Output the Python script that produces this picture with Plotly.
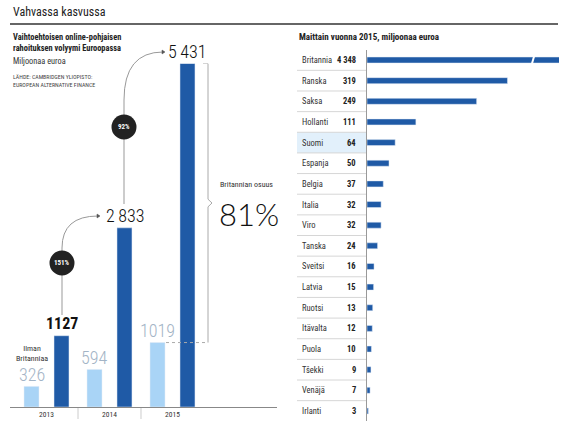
import plotly.graph_objects as go

W, H = 570, 428

# ---------------- data ----------------
years = [2013, 2014, 2015]
without_uk = [326, 594, 1019]
total = [1127, 2833, 5431]
growth = ["151%", "92%"]
uk_share = "81%"

countries = ["Britannia", "Ranska", "Saksa", "Hollanti", "Suomi", "Espanja", "Belgia",
             "Italia", "Viro", "Tanska", "Sveitsi", "Latvia", "Ruotsi", "Itävalta",
             "Puola", "Tšekki", "Venäjä", "Irlanti"]
values_2015 = [4348, 319, 249, 111, 64, 50, 37, 32, 32, 24, 16, 15, 13, 12, 10, 9, 7, 3]
value_labels = ["4 348", "319", "249", "111", "64", "50", "37", "32", "32", "24", "16",
                "15", "13", "12", "10", "9", "7", "3"]
highlight = "Suomi"

# ---------------- styling ----------------
DARK = "#1f5aa6"
LIGHT = "#a9d4f6"
NARROW = "Noto Sans Condensed, Liberation Sans Narrow, Roboto Condensed, Lato"
THIN = "Roboto Condensed, Liberation Sans Narrow, Lato"
LIGHTF = "Lato Light, Noto Sans Light, Lato"
TXT = "#222222"


def px(x):
    return x / W


def py(y):
    return 1 - y / H


def fmt_big(v):
    return f"{v:,}".replace(",", "\u2009") if v >= 2000 else str(v)


fig = go.Figure()

# left chart bars
fig.add_trace(go.Bar(x=years, y=without_uk, marker_color=LIGHT, offset=-0.357, width=0.238,
                     xaxis="x", yaxis="y", hoverinfo="skip"))
fig.add_trace(go.Bar(x=years, y=total, marker_color=DARK, offset=0.119, width=0.238,
                     xaxis="x", yaxis="y", hoverinfo="skip"))

# right chart bars
fig.add_trace(go.Bar(y=countries, x=values_2015, orientation="h", marker_color=DARK,
                     width=0.29, xaxis="x2", yaxis="y2", hoverinfo="skip"))

annotations = []
shapes = []

# title + rule
annotations.append(dict(text="Vahvassa kasvussa", x=px(11), y=py(12), xref="paper", yref="paper",
                        xanchor="left", yanchor="middle", showarrow=False,
                        font=dict(family=NARROW, size=12, color=TXT)))
shapes.append(dict(type="line", xref="paper", yref="paper", x0=px(10), x1=px(558),
                   y0=py(24), y1=py(24), line=dict(color="#333333", width=1.5)))

# left subtitles
for t, y, s, wgt, col in [
    ("Vaihtoehtoisen online-pohjaisen", 37, 8.4, 700, TXT),
    ("rahoituksen volyymi Euroopassa", 48, 8.4, 700, TXT),
    ("Miljoonaa euroa", 61, 8.3, 400, "#333333"),
    ("LÄHDE: CAMBRIDGEN YLIOPISTO:", 77, 5.9, 400, "#444444"),
    ("EUROPEAN ALTERNATIVE FINANCE", 85, 5.9, 400, "#444444"),
]:
    annotations.append(dict(text=t, x=px(11), y=py(y), xref="paper", yref="paper",
                            xanchor="left", yanchor="middle", showarrow=False,
                            font=dict(family=NARROW, size=s, color=col, weight=wgt)))

# value labels on left bars
for yr, v in zip(years, without_uk):
    annotations.append(dict(text=str(v), x=yr, y=v, xref="x", yref="y", xshift=-15, yshift=12,
                            xanchor="center", yanchor="middle", showarrow=False,
                            font=dict(family=THIN, size=18, color="#a3b4c6", weight=300)))
for i, (yr, v) in enumerate(zip(years, total)):
    if i == 0:
        f = dict(family=NARROW, size=16, color="#111111", weight=700)
    else:
        f = dict(family=THIN, size=18, color="#111111", weight=300)
    annotations.append(dict(text=fmt_big(v), x=yr, y=v, xref="x", yref="y", xshift=15, yshift=12,
                            xanchor="center", yanchor="middle", showarrow=False, font=f))

annotations.append(dict(text="Ilman<br>Britanniaa", x=years[0], y=without_uk[0], xref="x", yref="y",
                        xshift=-15, yshift=33, xanchor="center", yanchor="middle", showarrow=False,
                        font=dict(family=NARROW, size=8, color="#333333")))

# connectors between totals
CON = "#999999"
shapes.append(dict(type="path", xref="paper", yref="paper",
                   path=f"M {px(62)} {py(315)} L {px(62)} {py(248)} Q {px(62)} {py(216)} {px(98)} {py(216)}",
                   line=dict(color=CON, width=1)))
shapes.append(dict(type="path", xref="paper", yref="paper",
                   path=f"M {px(124)} {py(204)} L {px(124)} {py(100)} Q {px(124)} {py(52)} {px(163)} {py(52)}",
                   line=dict(color=CON, width=1)))
for (ax, ay) in [(98, 216), (163, 52)]:
    shapes.append(dict(type="path", xref="paper", yref="paper",
                       path=f"M {px(ax-1)} {py(ay-2)} L {px(ax+2)} {py(ay)} L {px(ax-1)} {py(ay+2)} Z",
                       fillcolor="#555555", line=dict(color="#555555", width=0.5)))
for (cx, cy), g in zip([(62, 263), (124, 127)], growth):
    shapes.append(dict(type="circle", xref="paper", yref="paper",
                       x0=px(cx - 12.5), x1=px(cx + 12.5), y0=py(cy + 12.5), y1=py(cy - 12.5),
                       fillcolor="#222222", line=dict(width=0)))
    annotations.append(dict(text=g, x=px(cx), y=py(cy), xref="paper", yref="paper",
                            xanchor="center", yanchor="middle", showarrow=False,
                            font=dict(family=NARROW, size=7, color="white", weight=700)))

# bracket for UK share
BR = "#aaaaaa"
ymid = (total[2] + without_uk[2]) / 2
shapes.append(dict(type="path", xref="paper", yref="y",
                   path=(f"M {px(203)} {total[2]} L {px(208)} {total[2]} L {px(208)} {ymid + 60} "
                         f"L {px(212)} {ymid} L {px(208)} {ymid - 60} L {px(208)} {without_uk[2]}"),
                   line=dict(color=BR, width=1)))
shapes.append(dict(type="line", xref="paper", yref="y", x0=px(166), x1=px(208),
                   y0=without_uk[2], y1=without_uk[2], line=dict(color=BR, width=1, dash="dot")))
annotations.append(dict(text="Britannian osuus", x=px(218), y=py(185), xref="paper", yref="paper",
                        xanchor="left", yanchor="middle", showarrow=False,
                        font=dict(family=NARROW, size=8, color="#333333")))
annotations.append(dict(text=uk_share, x=px(217), y=py(214), xref="paper", yref="paper",
                        xanchor="left", yanchor="middle", showarrow=False,
                        font=dict(family=LIGHTF, size=31, color="#111111", weight=300)))

# year separators
for b in [years[0] + 0.5, years[1] + 0.5]:
    shapes.append(dict(type="line", xref="x", yref="paper", x0=b, x1=b, y0=py(408), y1=py(419),
                       line=dict(color="#cccccc", width=1)))

# right chart
annotations.append(dict(text="Maittain vuonna 2015, miljoonaa euroa", x=px(297), y=py(37),
                        xref="paper", yref="paper", xanchor="left", yanchor="middle", showarrow=False,
                        font=dict(family=NARROW, size=9, color=TXT, weight=700)))
hi = countries.index(highlight)
shapes.append(dict(type="rect", xref="paper", yref="y2", x0=px(297), x1=px(366),
                   y0=hi - 0.5, y1=hi + 0.5, fillcolor="#e2f0fb", line=dict(width=0), layer="below"))
for i in range(len(countries) - 1):
    shapes.append(dict(type="line", xref="paper", yref="y2", x0=px(297), x1=px(366),
                       y0=i + 0.5, y1=i + 0.5, line=dict(color="#d6d6d6", width=1)))
for c, lab in zip(countries, value_labels):
    annotations.append(dict(text=c, x=px(300), y=c, xref="paper", yref="y2", xanchor="left",
                            yanchor="middle", showarrow=False,
                            font=dict(family=NARROW, size=8.5, color="#333333")))
    annotations.append(dict(text=lab, x=px(358), y=c, xref="paper", yref="y2", xanchor="right",
                            yanchor="middle", showarrow=False,
                            font=dict(family=NARROW, size=8.5, color=TXT, weight=700)))
# axis break mark on the truncated bar
shapes.append(dict(type="line", xref="x2", yref="y2", x0=374, x1=380, y0=0.22, y1=-0.22,
                   line=dict(color="white", width=2)))

fig.update_layout(
    width=W, height=H, margin=dict(l=0, r=0, t=0, b=0),
    paper_bgcolor="white", plot_bgcolor="rgba(0,0,0,0)",
    showlegend=False, barmode="overlay",
    font=dict(family=NARROW, color=TXT),
    xaxis=dict(domain=[px(10), px(277)], range=[2012.4206, 2016.659],
               tickvals=years, ticktext=[str(y) for y in years], ticks="",
               showline=True, linecolor="#888888", linewidth=1, showgrid=False, zeroline=False,
               tickfont=dict(family=NARROW, size=7.5, color="#333333"), fixedrange=True),
    yaxis=dict(domain=[py(407), py(63.5)], range=[0, total[2]], visible=False, fixedrange=True),
    xaxis2=dict(domain=[px(367), px(559)], range=[0, 436], visible=False, fixedrange=True),
    yaxis2=dict(domain=[py(421.3), py(49.7)], range=[len(countries) - 0.5, -0.5],
                anchor="x2", showticklabels=False, ticks="", showgrid=False, zeroline=False,
                showline=True, linecolor="#999999", linewidth=1, fixedrange=True),
    annotations=annotations, shapes=shapes,
)

fig.write_html("out.html", config={"displayModeBar": False},
               post_script="document.body.style.margin='0';document.body.style.overflow='hidden';")
